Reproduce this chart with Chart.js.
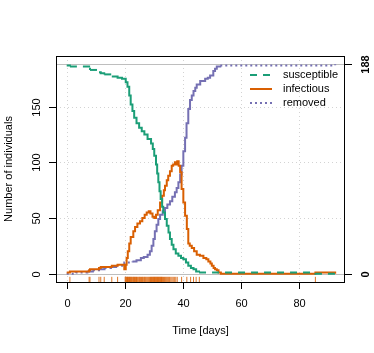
<!DOCTYPE html>
<html lang="en">
<head>
<meta charset="UTF-8">
<title>SIR epidemic</title>
<script src="https://cdn.jsdelivr.net/npm/chart.js@4.4.1/dist/chart.umd.min.js"></script>
<style>
  html, body { margin: 0; padding: 0; background: #fff; }
  .chart-box { position: relative; width: 374px; height: 353px; }
</style>
</head>
<body>
<div class="chart-box"><canvas id="sir_chart" width="374" height="353"></canvas></div>
<script>
  // ---- data (step times in days, counts) ----
  var popSize = 188;

  var sTime  = [0, 1.1, 7.7, 8.0, 11.1, 11.7, 12.9, 15.5, 17.5, 19.0, 20.3, 20.9, 21.5, 22.0, 22.6, 23.2, 24.0, 24.9, 25.8, 26.7,
                27.8, 29.0, 29.6, 30.1, 30.7, 31.1, 31.5, 31.9, 32.3, 32.8, 33.2, 33.8, 34.4, 35.0, 35.5, 36.1, 36.7, 37.5, 38.4, 39.3,
                40.1, 41.0, 41.8, 42.7, 43.6, 44.5, 45.5, 85.5, 92.3];
  var sCount = [187, 186, 184, 183, 181, 180, 179, 177, 176, 175, 172, 168, 160, 152, 146, 140, 135, 131, 128, 125,
                121, 117, 112, 106, 98, 90, 82, 74, 67, 60, 55, 49, 43, 37, 31, 26, 22, 18, 16, 14,
                13, 10, 7, 5, 4, 2, 1, 0, 0];

  var iTime  = [0, 1.1, 7.7, 8.0, 11.1, 11.7, 15.5, 17.5, 19.8, 20.3, 20.6, 21.0, 21.5, 22.0, 22.9, 23.5, 24.3, 25.2, 26.0, 26.8,
                27.5, 28.2, 28.8, 29.5, 30.1, 30.7, 31.3, 32.1, 32.8, 33.4, 33.8, 34.4, 34.9, 35.5, 36.1, 36.6, 37.2, 37.6, 38.0, 38.5,
                39.0, 39.5, 40.1, 40.7, 41.3, 41.8, 42.3, 43.0, 43.8, 44.7, 45.8, 47.0, 48.0, 48.7, 49.4, 49.9, 50.5, 51.0, 51.6, 52.2,
                53.0, 85.5, 92.3];
  var iCount = [1, 2, 3, 4, 5, 6, 7, 8, 4, 8, 14, 20, 27, 33, 38, 42, 45, 47, 50, 53,
                55, 56, 54, 51, 50, 53, 57, 64, 70, 75, 79, 84, 88, 92, 97, 98, 100, 98, 101, 97,
                91, 76, 64, 52, 40, 27, 25, 23, 20, 17, 16, 14, 13, 11, 9, 7, 5, 4, 3, 1,
                0, 1, 0];

  var rTime  = [0, 3.1, 7.1, 9.0, 11.1, 13.0, 15.2, 17.0, 19.8, 22.6, 24.0, 25.5, 26.5, 27.8, 28.6, 29.2, 29.8, 30.3, 30.9, 31.5,
                32.1, 33.0, 33.8, 34.6, 35.5, 36.3, 37.2, 37.8, 38.4, 39.0, 39.5, 40.1, 40.7, 41.2, 41.8, 42.4, 43.0, 43.6, 44.2, 44.7,
                45.9, 47.6, 48.5, 49.3, 50.4, 51.0, 51.6, 52.8, 92.3];
  var rCount = [0, 1, 2, 3, 4, 5, 6, 7, 10, 11, 12, 14, 15, 17, 20, 25, 31, 38, 44, 49,
                53, 56, 59, 62, 65, 69, 73, 77, 82, 89, 97, 110, 122, 135, 148, 156, 160, 164, 167, 170,
                173, 175, 176, 178, 182, 184, 186, 187, 188];

  // infection times (rug)
  var rugTimes = [1.1, 7.7, 8.0, 11.1, 11.7, 12.9, 15.5, 17.5,
                  20.1, 20.3, 20.5, 20.7, 20.9, 21.0, 21.2, 21.4, 21.6, 21.8, 22.0, 22.2, 22.4, 22.7, 22.9, 23.1, 23.3, 23.6, 23.8,
                  24.0, 24.3, 24.6, 24.9, 25.1, 25.4, 25.7, 26.0, 26.2, 26.5, 26.8, 27.0, 27.3, 27.6, 27.9, 28.2, 28.5, 28.8,
                  29.0, 29.2, 29.4, 29.6, 29.8, 30.0, 30.2, 30.4, 30.6, 30.8, 31.0, 31.2, 31.4, 31.6, 31.8, 32.0, 32.2, 32.4,
                  32.6, 32.8, 33.0, 33.3, 33.6, 33.9, 34.2, 34.5, 34.8, 35.1, 35.4, 35.8, 36.2, 36.6, 37.0, 37.5, 38.0,
                  39.5, 41.3, 42.6, 43.6, 44.5, 45.6, 85.5];

  var xTicks = [0, 20, 40, 60, 80];
  var yTicks = [0, 50, 100, 150];
  var yRightTicks = [0, popSize];

  function toPoints(ts, vs) {
    return ts.map(function (t, i) { return { x: t, y: vs[i] }; });
  }

  // dash only on long flat runs; the dense event steps read as a solid line
  function dashLong(pattern) {
    return function (c) { return (c.p1.x - c.p0.x) > 6 ? pattern : []; };
  }

  var FONT = '"Liberation Sans", Arial, Helvetica, sans-serif';

  /* axes, box, grid and legend drawn R-style */
  var framePlugin = {
    id: 'frame',
    beforeDatasetsDraw: function (chart) {
      var ctx = chart.ctx, a = chart.chartArea, xs = chart.scales.x, ys = chart.scales.y;
      ctx.save();
      ctx.lineWidth = 1;
      ctx.strokeStyle = '#d3d3d3';
      ctx.setLineDash([1, 3]);
      xTicks.forEach(function (v) {
        var px = Math.round(xs.getPixelForValue(v)) + 0.5;
        ctx.beginPath(); ctx.moveTo(px, a.top); ctx.lineTo(px, a.bottom); ctx.stroke();
      });
      yTicks.forEach(function (v) {
        var py = Math.round(ys.getPixelForValue(v)) + 0.5;
        ctx.beginPath(); ctx.moveTo(a.left, py); ctx.lineTo(a.right, py); ctx.stroke();
      });
      // reference lines at 0 and N
      ctx.setLineDash([]);
      ctx.strokeStyle = '#bebebe';
      yRightTicks.forEach(function (v) {
        var py = Math.round(ys.getPixelForValue(v)) + 0.5;
        ctx.beginPath(); ctx.moveTo(a.left, py); ctx.lineTo(a.right, py); ctx.stroke();
      });
      ctx.restore();
    },
    afterDraw: function (chart) {
      var ctx = chart.ctx, a = chart.chartArea, xs = chart.scales.x, ys = chart.scales.y;
      ctx.save();
      ctx.strokeStyle = '#000';
      ctx.fillStyle = '#000';
      ctx.lineWidth = 1;
      ctx.setLineDash([]);
      ctx.strokeRect(a.left + 0.5, a.top + 0.5, a.right - a.left - 1, a.bottom - a.top);

      ctx.font = '11px ' + FONT;
      ctx.textAlign = 'center';
      ctx.textBaseline = 'middle';

      // bottom axis
      xTicks.forEach(function (v) {
        var px = Math.round(xs.getPixelForValue(v)) + 0.5;
        ctx.beginPath(); ctx.moveTo(px, a.bottom); ctx.lineTo(px, a.bottom + 7); ctx.stroke();
        ctx.fillText(String(v), px, a.bottom + 22);
      });
      ctx.fillText('Time [days]', (a.left + a.right) / 2, a.bottom + 49);

      // left axis
      yTicks.forEach(function (v) {
        var py = Math.round(ys.getPixelForValue(v)) + 0.5;
        ctx.beginPath(); ctx.moveTo(a.left, py); ctx.lineTo(a.left - 7, py); ctx.stroke();
        ctx.save(); ctx.translate(a.left - 19, py); ctx.rotate(-Math.PI / 2);
        ctx.fillText(String(v), 0, 0); ctx.restore();
      });
      ctx.save(); ctx.translate(9, (a.top + a.bottom) / 2); ctx.rotate(-Math.PI / 2);
      ctx.fillText('Number of individuals', 0, 0); ctx.restore();

      // right axis
      ctx.font = 'bold 11px ' + FONT;
      yRightTicks.forEach(function (v) {
        var py = Math.round(ys.getPixelForValue(v)) + 0.5;
        ctx.beginPath(); ctx.moveTo(a.right, py); ctx.lineTo(a.right + 7, py); ctx.stroke();
        ctx.save(); ctx.translate(a.right + 21, py); ctx.rotate(-Math.PI / 2);
        ctx.fillText(String(v), 0, 0); ctx.restore();
      });

      // legend
      ctx.font = '11px ' + FONT;
      ctx.textAlign = 'left';
      var rowY = [75, 89, 103];
      for (var i = 0; i < 3; i++) {
        var ds = chart.data.datasets[i];
        ctx.strokeStyle = ds.borderColor;
        ctx.lineWidth = ds.borderWidth;
        ctx.setLineDash(ds.borderDash || []);
        ctx.beginPath(); ctx.moveTo(250, rowY[i]); ctx.lineTo(272, rowY[i]); ctx.stroke();
        ctx.fillText(ds.label, 283, rowY[i]);
      }
      ctx.restore();
    }
  };

  var ctx = document.getElementById('sir_chart').getContext('2d');
  var config = {
    type: 'line',
    data: {
      datasets: [
        { label: 'susceptible', data: toPoints(sTime, sCount), borderColor: '#1B9E77', borderWidth: 2,
          borderDash: [7, 6], segment: { borderDash: dashLong([7, 6]) },
          stepped: true, pointRadius: 0, fill: false },
        { label: 'infectious', data: toPoints(iTime, iCount), borderColor: '#D95F02', borderWidth: 2,
          stepped: true, pointRadius: 0, fill: false },
        { label: 'removed', data: toPoints(rTime, rCount), borderColor: '#7570B3', borderWidth: 2,
          borderDash: [2, 3], segment: { borderDash: dashLong([2, 3]) },
          stepped: true, pointRadius: 0, fill: false },
        { label: 'infection times', type: 'scatter',
          data: rugTimes.map(function (t) { return { x: t, y: -5.2 }; }),
          showLine: false, pointStyle: 'line', pointRotation: 90, pointRadius: 2.6,
          pointBorderColor: 'rgba(217,95,2,0.85)', pointBorderWidth: 1 }
      ]
    },
    options: {
      responsive: false,
      animation: false,
      layout: { padding: { left: 56, right: 29, top: 56, bottom: 71 } },
      scales: {
        x: { type: 'linear', min: -3.68, max: 95.68, display: false },
        y: { type: 'linear', min: -7.52, max: 195.52, display: false }
      },
      plugins: { legend: { display: false }, tooltip: { enabled: false } }
    },
    plugins: [framePlugin]
  };
  var chart = new Chart(ctx, config);
</script>
</body>
</html>
